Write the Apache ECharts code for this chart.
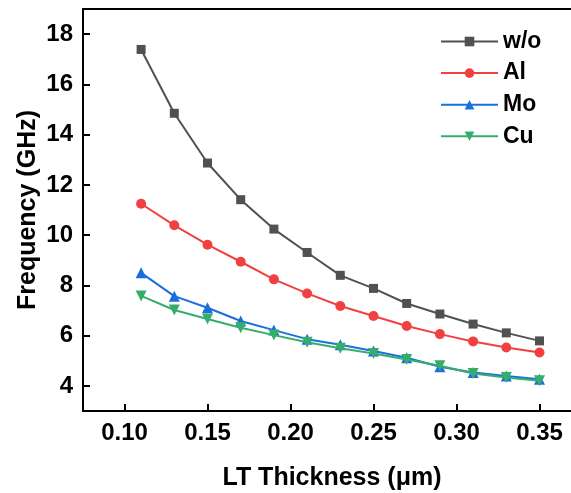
<!DOCTYPE html>
<html>
<head>
<meta charset="utf-8">
<script src="https://cdn.jsdelivr.net/npm/echarts@6/dist/echarts.min.js"></script>
<style>html,body{margin:0;padding:0;background:#fff}#c{width:571px;height:493px}</style>
</head>
<body>
<div id="c"></div>
<script>
var thickness = [0.11, 0.13, 0.15, 0.17, 0.19, 0.21, 0.23, 0.25, 0.27, 0.29, 0.31, 0.33, 0.35];
var seriesNames = ['w/o', 'Al', 'Mo', 'Cu'];
var wo = [17.39, 14.85, 12.87, 11.41, 10.24, 9.31, 8.40, 7.88, 7.28, 6.86, 6.46, 6.11, 5.79];
var al = [11.25, 10.39, 9.62, 8.94, 8.24, 7.68, 7.18, 6.78, 6.38, 6.06, 5.77, 5.53, 5.33];
var mo = [8.50, 7.57, 7.11, 6.58, 6.22, 5.86, 5.64, 5.39, 5.12, 4.76, 4.53, 4.39, 4.26];
var cu = [7.58, 7.02, 6.66, 6.31, 6.02, 5.74, 5.50, 5.29, 5.05, 4.80, 4.49, 4.33, 4.20];
var xTicks = [0.10, 0.15, 0.20, 0.25, 0.30, 0.35];
var yTicks = [4, 6, 8, 10, 12, 14, 16, 18];

var colors = ['#515151', '#F14040', '#1A6FDF', '#37AD6B'];
var symbols = ['rect', 'circle', 'triangle', 'triangle'];
var rotates = [0, 0, 0, 180];
var sizes = [9, 10, 11, 11];
var values = [wo, al, mo, cu];
var font = 'Arial, "Liberation Sans", sans-serif';

function pairs(v) { return thickness.map(function (x, i) { return [x, v[i]]; }); }

var chart = echarts.init(document.getElementById('c'), null, {renderer: 'canvas'});
chart.setOption({
  animation: false,
  backgroundColor: '#fff',
  grid: {left: 83, top: 9, width: 498, height: 402, outerBoundsMode: 'none', containLabel: false,
    show: true, borderColor: '#000', borderWidth: 2, backgroundColor: 'transparent'},
  xAxis: {
    type: 'value', min: 0.075, max: 0.375,
    name: 'LT Thickness (\u03bcm)', nameLocation: 'middle', nameGap: 55, nameMoveOverlap: false,
    nameTextStyle: {fontFamily: font, fontWeight: 'bold', fontSize: 25, color: '#000'},
    axisLine: {show: true, onZero: false, lineStyle: {color: '#000', width: 2}},
    axisTick: {show: true, inside: true, length: 7, lineStyle: {color: '#000', width: 2}, customValues: xTicks},
    axisLabel: {customValues: xTicks, margin: 10, fontFamily: font, fontWeight: 'bold', fontSize: 24, color: '#000',
      formatter: function (v) { return v.toFixed(2); }},
    splitLine: {show: false}
  },
  yAxis: {
    type: 'value', min: 3, max: 19,
    name: 'Frequency (GHz)', nameLocation: 'middle', nameGap: 42, nameMoveOverlap: false,
    nameTextStyle: {fontFamily: font, fontWeight: 'bold', fontSize: 25, color: '#000'},
    axisLine: {show: true, onZero: false, lineStyle: {color: '#000', width: 2}},
    axisTick: {show: true, inside: true, length: 7, lineStyle: {color: '#000', width: 2}, customValues: yTicks},
    axisLabel: {customValues: yTicks, margin: 10, fontFamily: font, fontWeight: 'bold', fontSize: 24, color: '#000'},
    splitLine: {show: false}
  },
  legend: {
    orient: 'vertical', left: 435, top: 25,
    itemWidth: 57, itemHeight: 12, itemGap: 8.6,
    textStyle: {fontFamily: font, fontWeight: 'bold', fontSize: 23, color: '#000', lineHeight: 23},
    data: seriesNames
  },
  series: seriesNames.map(function (n, i) {
    return {
      name: n, type: 'line', data: pairs(values[i]),
      symbol: symbols[i], symbolRotate: rotates[i], symbolSize: sizes[i],
      lineStyle: {color: colors[i], width: 2},
      itemStyle: {color: colors[i]},
      z: 2 + i
    };
  })
});
</script>
</body>
</html>
